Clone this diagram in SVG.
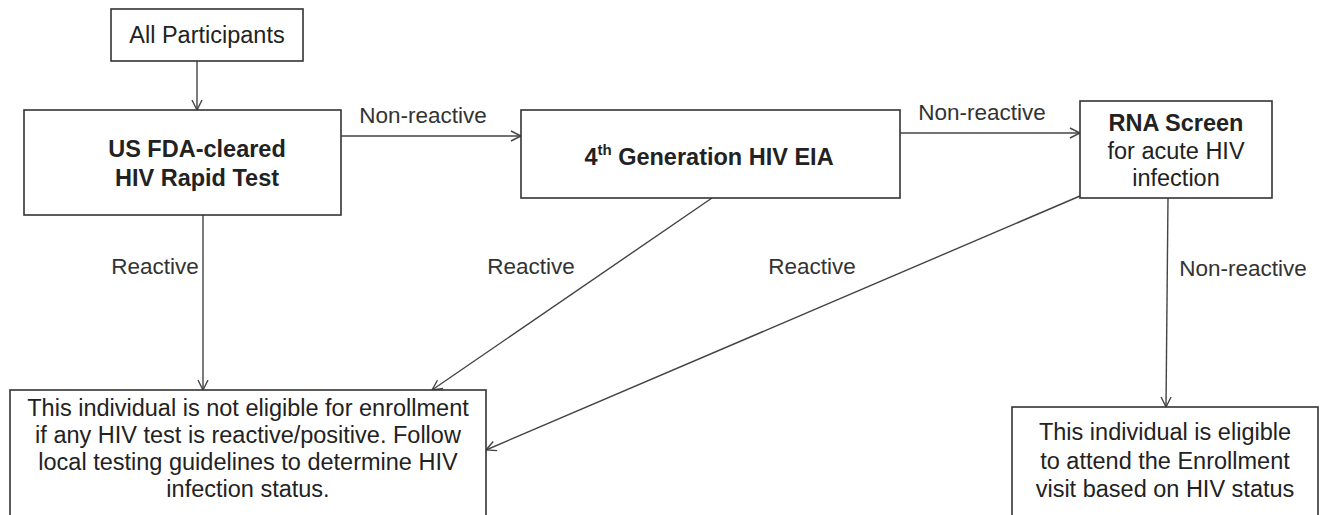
<svg xmlns="http://www.w3.org/2000/svg" width="1329" height="515" viewBox="0 0 1329 515">
<style>
.box{fill:#fff;stroke:#333;stroke-width:1.6}
.t{font-family:"Liberation Sans",Arial,sans-serif;font-size:23.5px;fill:#222;text-anchor:middle;dominant-baseline:central}
.b{font-weight:bold}
.lbl{font-family:"Liberation Sans",Arial,sans-serif;font-size:22.5px;fill:#333;text-anchor:middle;dominant-baseline:central}
.c{stroke:#444;stroke-width:1.4;fill:none;marker-end:url(#ah)}
</style>
<defs>
<marker id="ah" viewBox="0 0 12 12" refX="11" refY="6" markerWidth="12" markerHeight="12" markerUnits="userSpaceOnUse" orient="auto">
<path d="M1,1 L11,6 L1,11" fill="none" stroke="#444" stroke-width="1.4"/>
</marker>
</defs>
<rect width="1329" height="515" fill="#fff"/>
<g id="connectors">
<line class="c" x1="197" y1="61" x2="197" y2="110"/>
<line class="c" x1="341" y1="136" x2="521" y2="136"/>
<line class="c" x1="900" y1="133" x2="1080" y2="133"/>
<line class="c" x1="203" y1="215" x2="203" y2="390"/>
<line class="c" x1="712" y1="198" x2="432" y2="390"/>
<line class="c" x1="1080" y1="196" x2="486" y2="450"/>
<line class="c" x1="1168" y1="198" x2="1166" y2="407"/>
<text class="lbl" x="423" y="115">Non-reactive</text>
<text class="lbl" x="982" y="112">Non-reactive</text>
<text class="lbl" x="155" y="266">Reactive</text>
<text class="lbl" x="531" y="266">Reactive</text>
<text class="lbl" x="812" y="266">Reactive</text>
<text class="lbl" x="1243" y="268">Non-reactive</text>
</g>
<g id="all-participants">
<rect class="box" x="111" y="9" width="192" height="52"/>
<text class="t" x="207" y="35">All Participants</text>
</g>
<g id="rapid-test">
<rect class="box" x="24" y="110" width="317" height="105"/>
<text class="t b" x="197" y="149">US FDA-cleared</text>
<text class="t b" x="197" y="178">HIV Rapid Test</text>
</g>
<g id="eia">
<rect class="box" x="521" y="110" width="379" height="88"/>
<text class="t b" x="709" y="157">4<tspan font-size="15" dy="-8">th</tspan><tspan dy="8"> Generation HIV EIA</tspan></text>
</g>
<g id="rna">
<rect class="box" x="1080" y="101" width="192" height="97"/>
<text class="t b" x="1176" y="123">RNA Screen</text>
<text class="t" x="1176" y="151">for acute HIV</text>
<text class="t" x="1176" y="178">infection</text>
</g>
<g id="not-eligible">
<rect class="box" x="10" y="390" width="476" height="140"/>
<text class="t" x="248" y="408">This individual is not eligible for enrollment</text>
<text class="t" x="248" y="435">if any HIV test is reactive/positive. Follow</text>
<text class="t" x="248" y="462">local testing guidelines to determine HIV</text>
<text class="t" x="248" y="489">infection status.</text>
</g>
<g id="eligible">
<rect class="box" x="1012" y="407" width="306" height="120"/>
<text class="t" x="1165" y="432">This individual is eligible</text>
<text class="t" x="1165" y="461">to attend the Enrollment</text>
<text class="t" x="1165" y="489">visit based on HIV status</text>
</g>
</svg>
